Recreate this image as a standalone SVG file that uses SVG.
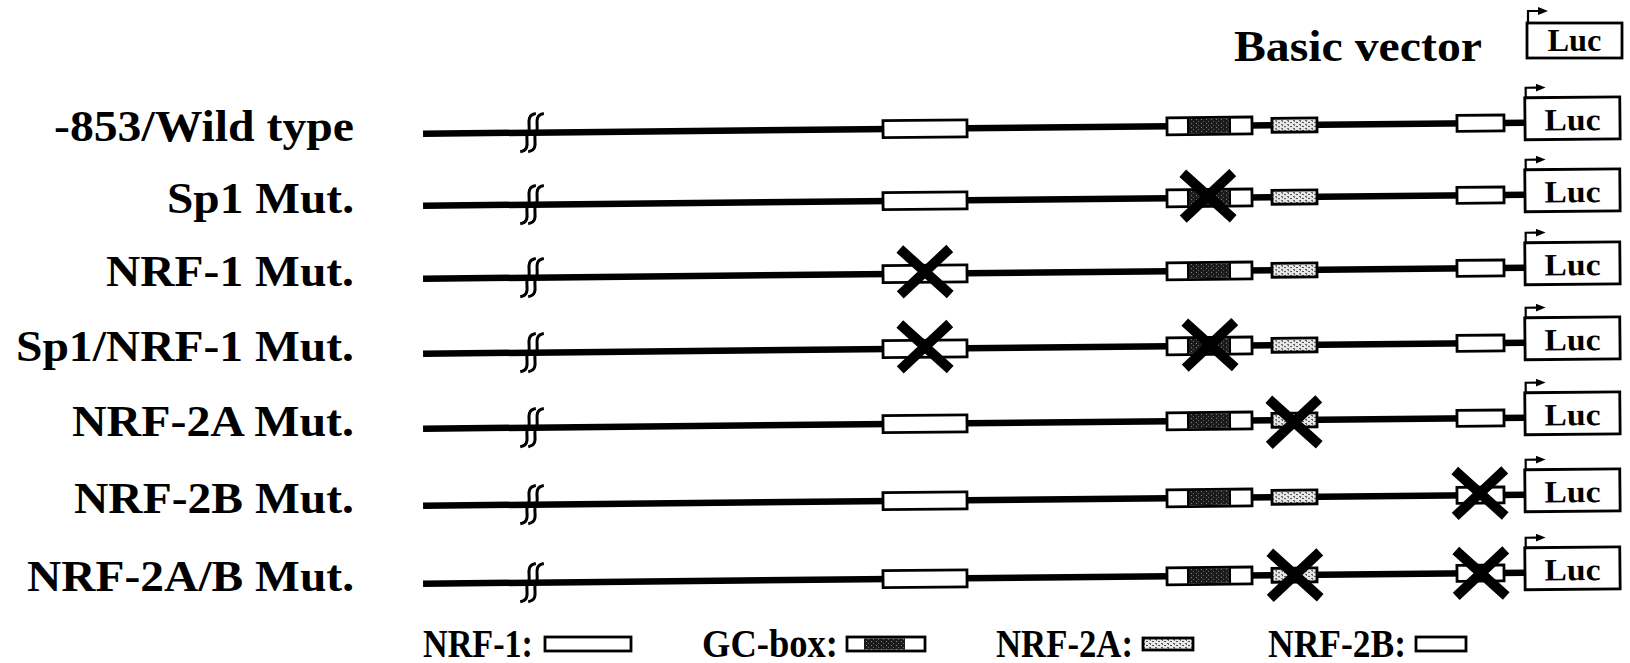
<svg xmlns="http://www.w3.org/2000/svg" xmlns:xlink="http://www.w3.org/1999/xlink" width="1630" height="663" viewBox="0 0 1630 663">
  <style>
    .lbl { font-family: "Liberation Serif", "Times New Roman", serif; font-weight: bold; font-size: 45px; fill: #000; text-anchor: end; }
    .leg { font-family: "Liberation Serif", "Times New Roman", serif; font-weight: bold; font-size: 40px; fill: #000; }
    .luc { font-family: "Liberation Serif", "Times New Roman", serif; font-weight: bold; font-size: 31px; fill: #000; text-anchor: middle; }
    .dna { stroke: #000; stroke-width: 6.5; fill: none; }
    .box { fill: #fff; stroke: #000; stroke-width: 2.8; }
    .gc { fill: url(#gcDots); stroke: none; }
    .n2a { fill: url(#n2aDots); stroke: #000; stroke-width: 2.8; }
    .brk { fill: none; stroke: #000; stroke-width: 3; }
    .xm { stroke: #000; stroke-width: 10; fill: none; }
    .tss { stroke: #000; stroke-width: 2.2; fill: none; }
  </style>
  <defs>
    <!-- dark stipple of the GC-box core -->
    <pattern id="gcDots" width="5" height="4" patternUnits="userSpaceOnUse">
      <rect width="5" height="4" fill="#1a1a1a"/>
      <rect x="1" y="1" width="1" height="1" fill="#8a8a8a"/>
      <rect x="3" y="3" width="1" height="1" fill="#6a6a6a"/>
    </pattern>
    <!-- light stipple of the NRF-2A site -->
    <pattern id="n2aDots" width="6" height="4" patternUnits="userSpaceOnUse">
      <rect width="6" height="4" fill="#e8e8e8"/>
      <rect x="0" y="1" width="2" height="1" fill="#4a4a4a"/>
      <rect x="3" y="3" width="2" height="1" fill="#5a5a5a"/>
      <rect x="4" y="0" width="1" height="1" fill="#6a6a6a"/>
    </pattern>
    <!-- transcription start arrow -->
    <marker id="tssHead" viewBox="0 0 10 8" refX="1" refY="4" markerWidth="10" markerHeight="8" markerUnits="userSpaceOnUse" orient="auto">
      <path d="M0,0 L10,4 L0,8 Z" fill="#000"/>
    </marker>
    <!-- mutation cross -->
    <path id="cross" class="xm" d="M-25,-23 L25,23 M25,-23 L-25,23"/>
    <!-- Luc reporter with promoter arrow, drawn on the row axis -->
    <g id="luc">
      <rect class="box" x="1525" y="-25" width="95" height="42"/>
      <text class="luc" x="1572.5" y="8" textLength="56" lengthAdjust="spacingAndGlyphs">Luc</text>
      <path class="tss" d="M1526,-25 V-35 H1537" marker-end="url(#tssHead)"/>
    </g>
    <!-- wild-type promoter construct, row axis at y = 0 -->
    <g id="construct">
      <path class="dna" d="M423,0 H1525"/>
      <path class="brk" d="M536,-19 C524,-17 532,-5 528,0 C524,5 532,17 520,19"/>
      <path class="brk" d="M544,-19 C532,-17 540,-5 536,0 C532,5 540,17 528,19"/>
      <rect class="box" x="883" y="-8.5" width="84" height="17"/>
      <rect class="box" x="1167" y="-8.5" width="85" height="17"/>
      <rect class="gc" x="1188" y="-7.1" width="42" height="14.2"/>
      <line x1="1188" y1="-8.5" x2="1188" y2="8.5" stroke="#000" stroke-width="2"/>
      <line x1="1230" y1="-8.5" x2="1230" y2="8.5" stroke="#000" stroke-width="2"/>
      <rect class="n2a" x="1272" y="-7" width="45" height="14"/>
      <rect class="box" x="1457" y="-8" width="47" height="16"/>
      <use xlink:href="#luc"/>
    </g>
  </defs>

  <!-- basic vector -->
  <g id="basic">
    <text class="lbl" x="1482" y="61" textLength="248" lengthAdjust="spacingAndGlyphs">Basic vector</text>
    <rect class="box" x="1527" y="23" width="95" height="35"/>
    <text class="luc" x="1574.5" y="51" font-size="28" textLength="54" lengthAdjust="spacingAndGlyphs">Luc</text>
    <path class="tss" d="M1528,23 V11 H1539" marker-end="url(#tssHead)"/>
  </g>

  <!-- construct names -->
  <g id="labels">
    <text class="lbl" x="354" y="141" textLength="300" lengthAdjust="spacingAndGlyphs">-853/Wild type</text>
    <text class="lbl" x="354" y="213" textLength="187" lengthAdjust="spacingAndGlyphs">Sp1 Mut.</text>
    <text class="lbl" x="354" y="286" textLength="248" lengthAdjust="spacingAndGlyphs">NRF-1 Mut.</text>
    <text class="lbl" x="354" y="361" textLength="338" lengthAdjust="spacingAndGlyphs">Sp1/NRF-1 Mut.</text>
    <text class="lbl" x="354" y="436" textLength="282" lengthAdjust="spacingAndGlyphs">NRF-2A Mut.</text>
    <text class="lbl" x="354" y="513" textLength="280" lengthAdjust="spacingAndGlyphs">NRF-2B Mut.</text>
    <text class="lbl" x="354" y="591" textLength="327" lengthAdjust="spacingAndGlyphs">NRF-2A/B Mut.</text>
  </g>

  <!-- constructs -->
  <g id="connectors">
    <g id="row-wt" transform="translate(0,125) rotate(-0.57 1300 0)">
      <use xlink:href="#construct"/>
    </g>
    <g id="row-sp1" transform="translate(0,197) rotate(-0.57 1300 0)">
      <use xlink:href="#construct"/>
      <use xlink:href="#cross" x="1208" y="-2"/>
    </g>
    <g id="row-nrf1" transform="translate(0,270) rotate(-0.57 1300 0)">
      <use xlink:href="#construct"/>
      <use xlink:href="#cross" x="925" y="-2"/>
    </g>
    <g id="row-sp1-nrf1" transform="translate(0,345) rotate(-0.57 1300 0)">
      <use xlink:href="#construct"/>
      <use xlink:href="#cross" x="925" y="-2"/>
      <use xlink:href="#cross" x="1210" y="-1"/>
    </g>
    <g id="row-nrf2a" transform="translate(0,420) rotate(-0.57 1300 0)">
      <use xlink:href="#construct"/>
      <use xlink:href="#cross" x="1294" y="2"/>
    </g>
    <g id="row-nrf2b" transform="translate(0,497) rotate(-0.57 1300 0)">
      <use xlink:href="#construct"/>
      <use xlink:href="#cross" x="1480" y="-2"/>
    </g>
    <g id="row-nrf2ab" transform="translate(0,575) rotate(-0.57 1300 0)">
      <use xlink:href="#construct"/>
      <use xlink:href="#cross" x="1295" y="0"/>
      <use xlink:href="#cross" x="1481" y="0"/>
    </g>
  </g>

  <!-- key -->
  <g id="legend">
    <text class="leg" x="423" y="657" textLength="110" lengthAdjust="spacingAndGlyphs">NRF-1:</text>
    <rect class="box" x="545" y="637" width="86" height="14"/>
    <text class="leg" x="702" y="657" textLength="136" lengthAdjust="spacingAndGlyphs">GC-box:</text>
    <rect class="box" x="847" y="637" width="78" height="14"/>
    <rect class="gc" x="864" y="638.4" width="41" height="11.2"/>
    <text class="leg" x="996" y="657" textLength="137" lengthAdjust="spacingAndGlyphs">NRF-2A:</text>
    <rect class="n2a" x="1143" y="638" width="50" height="12"/>
    <text class="leg" x="1268" y="657" textLength="138" lengthAdjust="spacingAndGlyphs">NRF-2B:</text>
    <rect class="box" x="1416" y="637" width="50" height="14"/>
  </g>
</svg>
